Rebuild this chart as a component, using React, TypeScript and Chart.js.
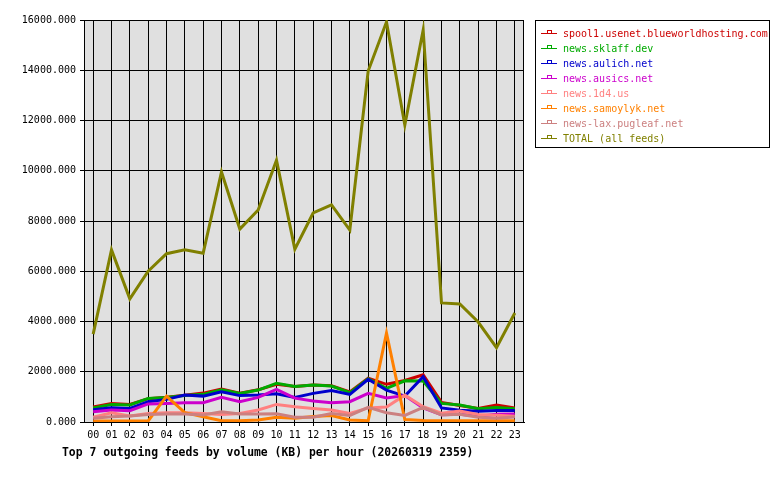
import React, { useEffect, useRef } from "react";
import { Chart, registerables } from "chart.js";

Chart.register(...registerables);

const hours = ["00","01","02","03","04","05","06","07","08","09","10","11","12","13","14","15","16","17","18","19","20","21","22","23"];

const spool1 = [600, 740, 700, 930, 990, 1070, 1150, 1310, 1150, 1280, 1500, 1410, 1470, 1440, 1200, 1740, 1500, 1650, 1880, 780, 660, 540, 680, 560];
const sklaff = [560, 700, 680, 940, 980, 1050, 1100, 1280, 1140, 1270, 1540, 1410, 1470, 1430, 1170, 1720, 1340, 1640, 1630, 740, 680, 530, 580, 530];
const aulich = [490, 570, 540, 810, 900, 1070, 1030, 1200, 1050, 1070, 1120, 980, 1140, 1250, 1100, 1700, 1270, 1030, 1800, 560, 470, 430, 460, 460];
const ausics = [410, 480, 450, 720, 740, 770, 770, 980, 810, 980, 1300, 950, 840, 770, 810, 1140, 960, 1050, 560, 290, 310, 230, 310, 320];
const n1d4 = [190, 370, 240, 340, 370, 370, 340, 300, 340, 480, 700, 610, 540, 480, 340, 560, 600, 1070, 610, 350, 440, 300, 270, 230];
const samoylyk = [40, 40, 40, 40, 1030, 370, 210, 50, 50, 80, 190, 150, 220, 260, 80, 50, 3540, 100, 60, 50, 50, 50, 50, 50];
const pugleaf = [150, 210, 240, 300, 320, 320, 280, 410, 320, 320, 330, 190, 190, 340, 260, 580, 370, 260, 580, 280, 310, 190, 150, 200];
const total = [3500, 6850, 4900, 6000, 6700, 6850, 6720, 9950, 7680, 8440, 10420, 6880, 8320, 8640, 7640, 13970, 15920, 11820, 15600, 4740, 4700, 3980, 2960, 4340];

const seriesNames = [
  "spool1.usenet.blueworldhosting.com",
  "news.sklaff.dev",
  "news.aulich.net",
  "news.ausics.net",
  "news.1d4.us",
  "news.samoylyk.net",
  "news-lax.pugleaf.net",
  "TOTAL (all feeds)",
];
const seriesColors = ["#cc0000", "#00aa00", "#0000cc", "#cc00cc", "#ff8080", "#ff8000", "#cc8080", "#808000"];
const seriesData = [spool1, sklaff, aulich, ausics, n1d4, samoylyk, pugleaf, total];

const yTicks = [0, 2000, 4000, 6000, 8000, 10000, 12000, 14000, 16000];
const titleText = "Top 7 outgoing feeds by volume (KB) per hour (20260319 2359)";

const MONO = "'DejaVu Sans Mono', monospace";

export default function App() {
  const ref = useRef<HTMLCanvasElement | null>(null);

  useEffect(() => {
    if (!ref.current) return;
    const bgPlugin = {
      id: "plotbg",
      beforeDraw(chart: any) {
        const { ctx, chartArea } = chart;
        ctx.save();
        ctx.fillStyle = "#e0e0e0";
        ctx.fillRect(chartArea.left, chartArea.top, chartArea.right - chartArea.left, chartArea.bottom - chartArea.top);
        ctx.restore();
      },
      beforeDatasetsDraw(chart: any) {
        const { ctx, chartArea } = chart;
        ctx.save();
        ctx.strokeStyle = "#000";
        ctx.lineWidth = 1;
        ctx.strokeRect(chartArea.left + 0.5, chartArea.top + 0.5, chartArea.right - chartArea.left - 1, chartArea.bottom - chartArea.top);
        ctx.restore();
      },
    };
    const chart = new Chart(ref.current, {
      type: "line",
      data: {
        labels: hours,
        datasets: seriesData.map((d, i) => ({
          label: seriesNames[i],
          data: d,
          borderColor: seriesColors[i],
          backgroundColor: seriesColors[i],
          borderWidth: 3,
          pointRadius: 0,
          tension: 0,
          fill: false,
          order: seriesData.length - 1 - i,
          borderJoinStyle: "miter" as const,
        })),
      },
      options: {
        responsive: false,
        animation: false,
        events: [],
        layout: { padding: { left: 0, right: 256, top: 20, bottom: 0 } },
        plugins: { legend: { display: false }, tooltip: { enabled: false }, title: { display: false } },
        scales: {
          x: {
            type: "category",
            offset: true,
            grid: { offset: false, color: "#000", lineWidth: 1, drawTicks: true, tickLength: 4, tickColor: "#000" },
            border: { display: true, color: "#000" },
            ticks: { autoSkip: false, maxRotation: 0, minRotation: 0, color: "#000", font: { family: MONO, size: 10 }, padding: 3 },
            afterFit: (s: any) => { s.height = 58; },
          },
          y: {
            min: 0,
            max: 16000,
            afterBuildTicks: (s: any) => { s.ticks = yTicks.map((v) => ({ value: v })); },
            grid: { color: "#000", lineWidth: 1, drawTicks: true, tickLength: 4, tickColor: "#000" },
            border: { display: true, color: "#000" },
            ticks: { color: "#000", font: { family: MONO, size: 10 }, padding: 4, callback: (v: any) => Number(v).toFixed(3) },
            afterFit: (s: any) => { s.width = 84; },
          },
        },
      },
      plugins: [bgPlugin],
    });
    return () => chart.destroy();
  }, []);

  return (
    <div style={{ position: "absolute", left: 0, top: 0, width: 780, height: 480, background: "#fff" }}>
      <canvas ref={ref} width={780} height={480} style={{ position: "absolute", left: 0, top: 0 }} />
      <div style={{ position: "absolute", left: 62, top: 444, width: 420, fontFamily: MONO, fontWeight: "bold", fontSize: "11.4px", lineHeight: "16px", whiteSpace: "nowrap", color: "#000" }}>
        {titleText}
      </div>
      <div style={{ position: "absolute", left: 535, top: 20, width: 233, height: 126, border: "1px solid #000", boxSizing: "content-box" }}>
        {seriesNames.map((name, i) => (
          <div key={name} style={{ position: "absolute", left: 0, top: 5 + i * 15, height: 15, width: 233 }}>
            <div style={{ position: "absolute", left: 5, top: 7, width: 16, height: 1, background: seriesColors[i] }} />
            <div style={{ position: "absolute", left: 11, top: 4, width: 3, height: 2, border: `1px solid ${seriesColors[i]}`, borderBottom: "none" }} />
            <div style={{ position: "absolute", left: 27, top: 0, fontFamily: MONO, fontSize: "10px", lineHeight: "15px", color: seriesColors[i], whiteSpace: "nowrap" }}>
              {name}
            </div>
          </div>
        ))}
      </div>
    </div>
  );
}
